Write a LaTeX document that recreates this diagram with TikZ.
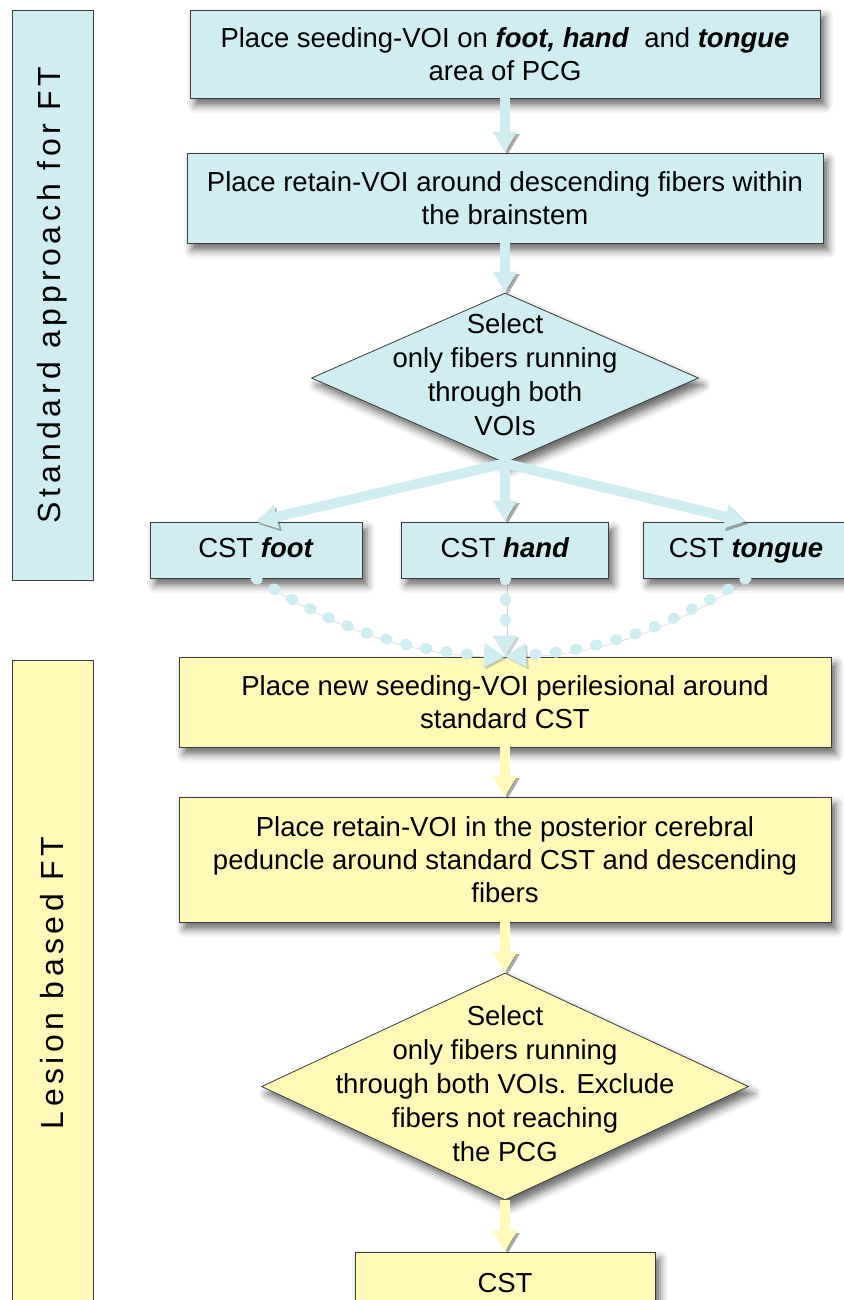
\documentclass[tikz,border=0pt]{standalone}
\usepackage{fontspec}
\setmainfont{Liberation Sans}
\newfontfamily\barfont[LetterSpace=14]{Liberation Sans}
\usepackage{xcolor}
\usetikzlibrary{arrows.meta,positioning,shapes.geometric,shadows.blur}

\definecolor{stdfill}{RGB}{208,237,241}
\definecolor{lesfill}{RGB}{255,250,184}
\definecolor{edge}{RGB}{60,60,60}

\newcommand{\bfit}[1]{\textbf{\textit{#1}}}
\newcommand{\diatext}[1]{\makebox[0pt]{\smash{\raisebox{-6pt}{\renewcommand{\arraystretch}{1.03}\begin{tabular}{@{}c@{}}#1\end{tabular}}}}}

\begin{document}
\begin{tikzpicture}[
  x=1pt, y=-1pt,
  font=\fontsize{27.5}{33}\selectfont,
  >={Triangle[width=23pt,length=21pt]},
  box/.style={draw=edge, line width=0.8pt, align=center, inner sep=0pt,
    blur shadow={shadow xshift=5pt, shadow yshift=-7pt, shadow blur radius=8pt, shadow opacity=60}},
  std/.style={box, fill=stdfill},
  les/.style={box, fill=lesfill},
  cstbox/.style={minimum height=56pt, text height=20pt, text depth=6pt},
  side/.style={draw=edge, line width=0.8pt, rotate=90, inner sep=0pt, minimum height=81pt,
    font=\barfont\fontsize{32}{36}\selectfont},
  flow/.style={->, line width=10pt, draw=#1,
    preaction={draw=black!65, opacity=0.5, transform canvas={xshift=2.5pt, yshift=-2.5pt}}},
  dotflow/.style={->, line width=11pt, draw=#1, line cap=round, dash pattern=on 1.5pt off 19pt,
    preaction={draw=black!55, opacity=0.35, transform canvas={xshift=2pt, yshift=-2pt}}}
]
\useasboundingbox (0,0) rectangle (843,1300);

% side bars
\node[side, fill=stdfill, minimum width=570pt] (stdbar) at (52.5,295) {Standard approach for FT};
\node[side, fill=lesfill, minimum width=646pt] (lesbar) at (52.5,983) {Lesion based FT};

% standard approach
\node[std, minimum width=630pt, minimum height=88pt] (seed) at (505,54)
  {Place seeding-VOI on \bfit{foot, hand} \ and \bfit{tongue}\\area of PCG};
\node[std, minimum width=636pt, minimum height=90pt] (retain) at (505,198)
  {Place retain-VOI around descending fibers within\\the brainstem};
\node[std, diamond, minimum width=387pt, minimum height=170pt] (select) at (505,378)
  {\diatext{Select\\only fibers running\\through both\\VOIs}};
\node[std, cstbox, minimum width=212pt] (foot) at (256,550) {CST \bfit{foot}};
\node[std, cstbox, minimum width=207pt] (hand) at (505,550) {CST \bfit{hand}};
\node[std, cstbox, minimum width=206pt] (tongue) at (746,550) {CST \bfit{tongue}};

% lesion based
\node[les, minimum width=652pt, minimum height=90pt] (newseed) at (505,702)
  {Place new seeding-VOI perilesional around\\standard CST};
\node[les, minimum width=652pt, minimum height=125pt] (peduncle) at (505,859.5)
  {Place retain-VOI in the posterior cerebral\\peduncle around standard CST and descending\\fibers};
\node[les, diamond, minimum width=487pt, minimum height=227pt] (exclude) at (505,1086.5)
  {\diatext{Select\\only fibers running\\through both VOIs. Exclude\\fibers not reaching\\the PCG}};
\node[les, minimum width=300pt, minimum height=76pt] (cst) at (505,1290) {\raisebox{15pt}{CST}};

\draw[flow=stdfill] (seed) -- (retain);
\draw[flow=stdfill] (retain) -- (select);
\draw[flow=stdfill] (select.south) -- (foot.north);
\draw[flow=stdfill] (select.south) -- (hand.north);
\draw[flow=stdfill] (select.south) -- (tongue.north);

\draw[dotflow=stdfill] (foot.south) to[bend right=14] (newseed.north);
\draw[dotflow=stdfill] (hand.south) -- (newseed.north);
\draw[dotflow=stdfill] (tongue.south) to[bend left=14] (newseed.north);

\draw[flow=lesfill] (newseed) -- (peduncle);
\draw[flow=lesfill] (peduncle) -- (exclude);
\draw[flow=lesfill] (exclude) -- (cst);
\end{tikzpicture}
\end{document}
